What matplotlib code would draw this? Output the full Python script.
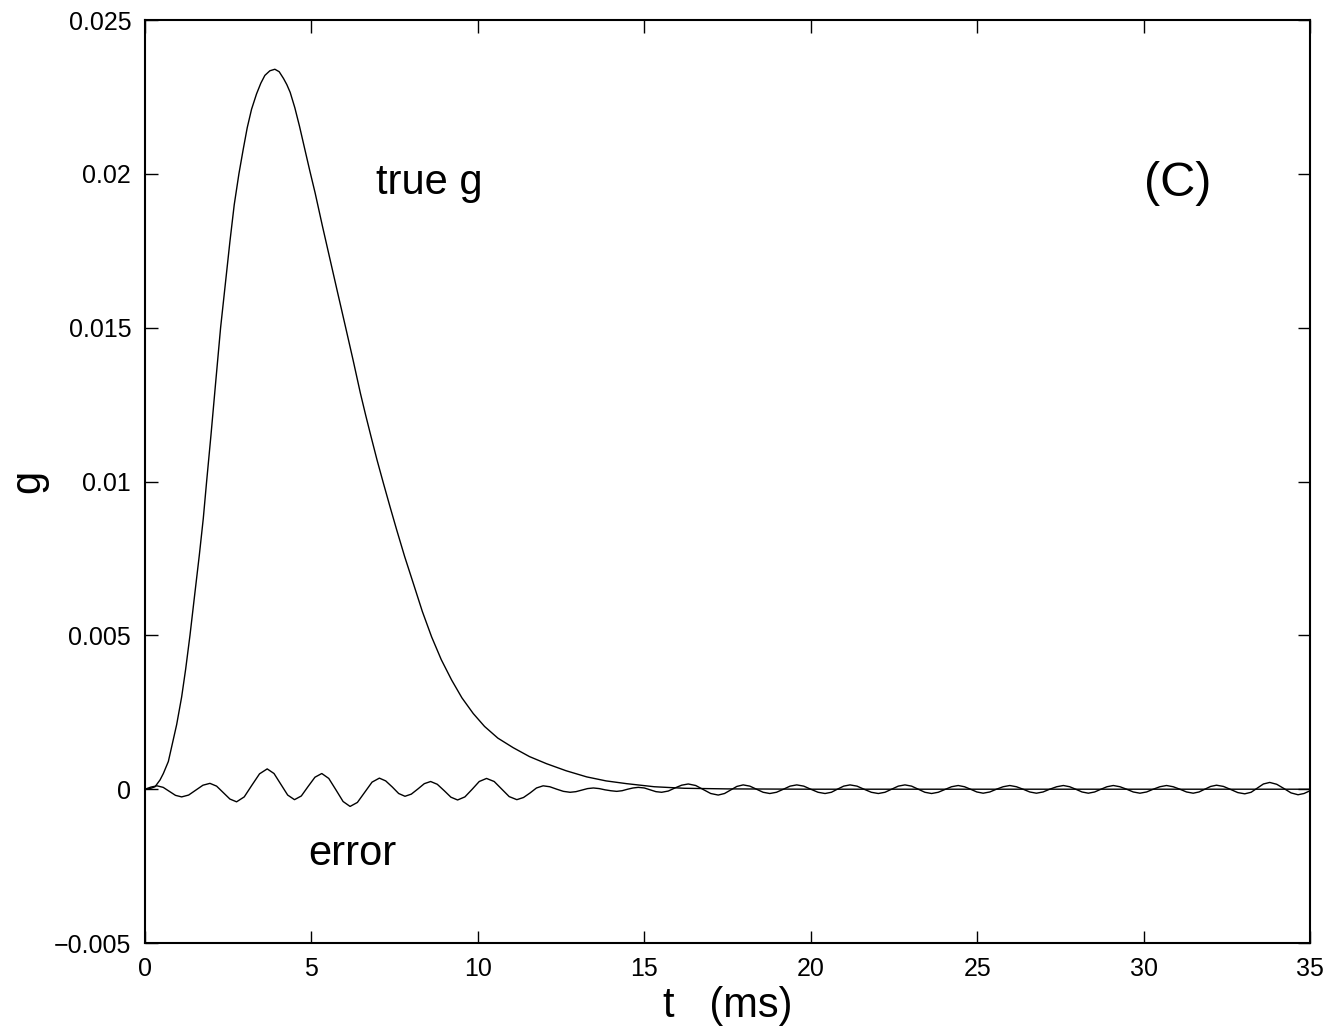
import matplotlib
matplotlib.use("Agg")
import matplotlib.pyplot as plt

plt.rcParams['font.family'] = ['Liberation Sans', 'DejaVu Sans']

# true g (t in ms)
t_true = [0, 0.15, 0.3, 0.45, 0.55, 0.7, 0.8, 0.95, 1.1, 1.22, 1.35, 1.5, 1.63,
          1.75, 1.85, 1.98, 2.12, 2.27, 2.41, 2.55, 2.68, 2.82, 2.95, 3.07, 3.2,
          3.35, 3.48, 3.6, 3.75, 3.9, 4.03, 4.16, 4.26, 4.36, 4.5, 4.64, 4.8, 4.95,
          5.11, 5.33, 5.56, 5.79, 6.02, 6.25, 6.47, 6.63, 6.79, 6.97, 7.16, 7.36,
          7.56, 7.8, 8.06, 8.33, 8.61, 8.9, 9.21, 9.52, 9.86, 10.2, 10.6, 11.06,
          11.55, 12.06, 12.65, 13.27, 13.85, 14.47, 15.3, 16.2, 17.5, 20, 35]
g_true = [0, 0.00002, 0.00008, 0.0003, 0.00051, 0.0009, 0.00138, 0.0021, 0.003,
          0.0039, 0.005, 0.0064, 0.0076, 0.0088, 0.01, 0.0115, 0.0132, 0.015,
          0.0164, 0.0178, 0.019, 0.02, 0.0208, 0.0215, 0.0221, 0.0226, 0.02295,
          0.0232, 0.02335, 0.0234, 0.02332, 0.0231, 0.0229, 0.02265, 0.02215,
          0.02155, 0.0208, 0.0201, 0.01938, 0.0183, 0.01721, 0.01612, 0.01504,
          0.01395, 0.01287, 0.01215, 0.01146, 0.0107, 0.00995, 0.00918, 0.00843,
          0.00756, 0.00669, 0.00578, 0.00495, 0.00421, 0.00355, 0.00297, 0.00246,
          0.00204, 0.00166, 0.00135, 0.00106, 0.00083, 0.0006, 0.0004, 0.00027,
          0.00018, 0.00008, 0.00003, 0.00001, 0, 0]

# error curve
t_err = [0, 0.18, 0.36, 0.545, 0.73, 0.915, 1.10, 1.31, 1.525, 1.74, 1.95,
         2.15, 2.35, 2.55, 2.75, 2.98, 3.21, 3.44, 3.67, 3.875, 4.08, 4.285, 4.49,
         4.695, 4.9, 5.105, 5.31, 5.52, 5.74, 5.95, 6.16, 6.38, 6.6, 6.82, 7.04,
         7.23, 7.43, 7.62, 7.81, 8.0, 8.2, 8.39, 8.58, 8.78, 8.99, 9.19, 9.39,
         9.61, 9.83, 10.04, 10.26, 10.49, 10.72, 10.94, 11.17, 11.37, 11.57, 11.76,
         11.96, 12.16, 12.37, 12.57, 12.77, 12.945, 13.12, 13.295, 13.47, 13.645,
         13.82, 13.995, 14.17, 14.33, 14.5, 14.66, 14.82, 15.0, 15.17, 15.35,
         15.52, 15.72, 15.92, 16.12, 16.32, 16.545, 16.77, 16.995, 17.22, 17.41,
         17.6, 17.78, 17.97, 18.17, 18.37, 18.57, 18.77, 18.97, 19.18, 19.38,
         19.58, 19.79, 20.0, 20.22, 20.43, 20.62, 20.8, 20.99, 21.18, 21.39, 21.6,
         21.82, 22.03, 22.23, 22.43, 22.63, 22.83, 23.03, 23.23, 23.43, 23.63,
         23.83, 24.03, 24.23, 24.43, 24.62, 24.8, 24.99, 25.18, 25.38, 25.58,
         25.78, 25.98, 26.18, 26.38, 26.58, 26.78, 26.98, 27.18, 27.39, 27.59,
         27.78, 27.96, 28.15, 28.34, 28.53, 28.72, 28.9, 29.09, 29.29, 29.49,
         29.69, 29.89, 30.09, 30.29, 30.49, 30.69, 30.89, 31.09, 31.29, 31.49,
         31.665, 31.84, 32.015, 32.19, 32.4, 32.62, 32.83, 33.04, 33.23, 33.42,
         33.6, 33.79, 34.0, 34.22, 34.43, 34.64, 34.82, 35.0]
g_err = [0, 0.00007, 0.00011, 0.00006, -0.00007, -0.0002, -0.00025, -0.00019,
         -0.00003, 0.00013, 0.00019, 0.0001, -0.00011, -0.00032, -0.00041, -0.00025,
         0.00013, 0.0005, 0.00066, 0.00051, 0.00016, -0.00019, -0.00034, -0.00022,
         0.00009, 0.00039, 0.00051, 0.00035, -0.00003, -0.0004, -0.00056, -0.00043,
         -0.0001, 0.00023, 0.00036, 0.00027, 0.00007, -0.00014, -0.00023, -0.00016,
         0.00001, 0.00018, 0.00025, 0.00016, -0.00005, -0.00026, -0.00035, -0.00025,
         0, 0.00025, 0.00035, 0.00025, 0, -0.00024, -0.00034, -0.00027, -0.00012,
         0.00004, 0.00011, 0.00008, 0, -0.00007, -0.0001,
         -0.00008, -0.00003, 0.00002, 0.00004, 0.00002, -0.00002, -0.00005,
         -0.00007, -0.00005, 0, 0.00004, 0.00006, 0.00004, -0.00002, -0.00008,
         -0.0001, -0.00006, 0.00004, 0.00013, 0.00017, 0.00012, -0.00001, -0.00014,
         -0.00019, -0.00014, -0.00002, 0.00009, 0.00014, 0.0001, 0, -0.0001,
         -0.00014, -0.0001, 0, 0.0001, 0.00014, 0.0001, 0, -0.0001, -0.00014,
         -0.0001, 0, 0.0001, 0.00014, 0.0001, 0, -0.0001, -0.00014, -0.0001, 0,
         0.0001, 0.00014, 0.0001, 0, -0.0001, -0.00014, -0.0001, -0.00001, 0.00008,
         0.00012, 0.00008, 0, -0.00009, -0.00013, -0.00009, 0, 0.00008, 0.00012,
         0.00008, 0, -0.00009, -0.00013, -0.00009, 0, 0.00008, 0.00012, 0.00008, 0,
         -0.00009, -0.00013, -0.00009, 0, 0.00008, 0.00012, 0.00008, 0, -0.00009,
         -0.00013, -0.00009, 0, 0.00008, 0.00012, 0.00008, 0, -0.00009, -0.00013,
         -0.00009, 0, 0.00009, 0.00013, 0.00009, -0.00001, -0.00011, -0.00015,
         -0.0001, 0.00004, 0.00017, 0.00022, 0.00016, 0.00002, -0.00012, -0.00018,
         -0.00014, -0.00005]

xticks = [0, 5, 10, 15, 20, 25, 30, 35]
yticks = [-0.005, 0, 0.005, 0.01, 0.015, 0.02, 0.025]
ylabels = ['\u22120.005', '0', '0.005', '0.01', '0.015', '0.02', '0.025']

fig = plt.figure(figsize=(13.27, 10.32), dpi=100)
ax = fig.add_axes([0.1093, 0.0862, 0.8779, 0.8944])

ax.plot(t_true, g_true, color='black', lw=1.0)
ax.plot(t_err, g_err, color='black', lw=1.0)

ax.set_xlim(0, 35)
ax.set_ylim(-0.005, 0.025)
ax.set_xticks(xticks)
ax.set_xticklabels([str(v) for v in xticks])
ax.set_yticks(yticks)
ax.set_yticklabels(ylabels)
ax.tick_params(direction='in', length=9, width=1.0, labelsize=18,
               top=True, right=True, pad=10)
for s in ax.spines.values():
    s.set_linewidth(1.5)

ax.set_xlabel('t   (ms)', fontsize=30, labelpad=4)
ax.set_ylabel('g', fontsize=30)
ax.yaxis.set_label_coords(-0.083, 0.5)

ax.text(6.94, 0.0197, 'true g', fontsize=30, va='center', ha='left')
ax.text(4.9, -0.0021, 'error', fontsize=30, va='center', ha='left')
ax.text(30.0, 0.0197, '(C)', fontsize=35, va='center', ha='left')

fig.savefig('out.png', dpi=100)
